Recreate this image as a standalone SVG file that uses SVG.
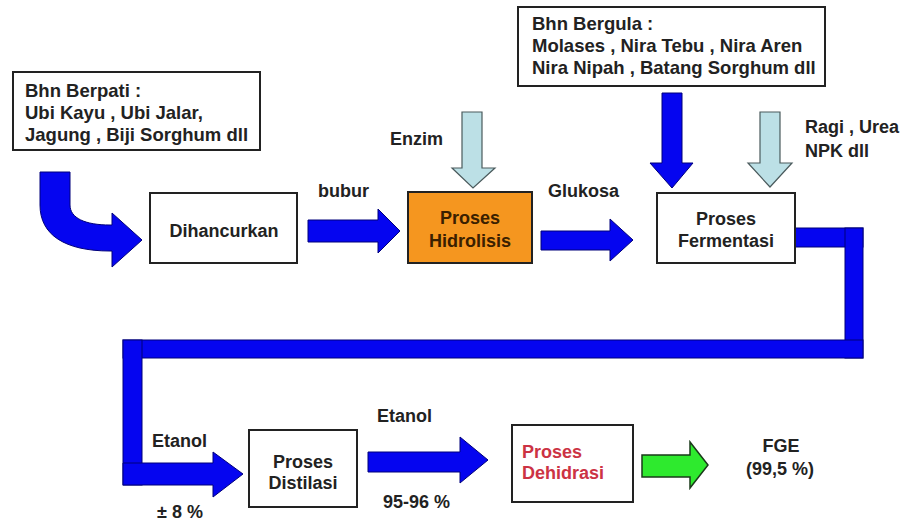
<svg xmlns="http://www.w3.org/2000/svg" width="905" height="521" viewBox="0 0 905 521">
<style>
text{font-family:"Liberation Sans",Arial,sans-serif;font-weight:bold;font-size:18px;fill:#222}
.big{font-size:18.5px}
.box{fill:#fff;stroke:#222;stroke-width:2}
.blue{fill:#0505F0;stroke:#00007a;stroke-width:1}
.light{fill:#BCE0E6;stroke:#4a5a5c;stroke-width:1.2}
.mid{text-anchor:middle}
</style>
<rect width="905" height="521" fill="#fff"/>

<g id="connectors">
  <path id="curve-arrow" class="blue" d="M40,172 L70,172 L70,205 C70,218 85,225 110,225 L112,225 L112,213 L142,240 L112,267 L112,251 L110,251 C65,251 40,235 40,205 Z"/>
  <path id="arrow-bubur" class="blue" d="M308,220 L378,220 L378,209 L400,231 L378,253 L378,242 L308,242 Z"/>
  <path id="arrow-glukosa" class="blue" d="M541,231 L610,231 L610,219 L633,240 L610,261 L610,250 L541,250 Z"/>
  <path id="arrow-bergula" class="blue" d="M662,93 L682,93 L682,163 L693,163 L672,188 L650,163 L662,163 Z"/>
  <path id="arrow-enzim" class="light" d="M462,112 L482,112 L482,168 L495,168 L473,188 L452,168 L462,168 Z"/>
  <path id="arrow-ragi" class="light" d="M760,112 L780,112 L780,163 L792,163 L770,187 L748,163 L760,163 Z"/>
  <g id="arrow-etanol-loop">
    <rect class="blue" x="795" y="228" width="68" height="19"/>
    <rect class="blue" x="845" y="228" width="18" height="130"/>
    <rect class="blue" x="123" y="340" width="740" height="18"/>
    <rect class="blue" x="123" y="340" width="19" height="145"/>
    <path class="blue" d="M123,463 L213,463 L213,452 L243,474 L213,497 L213,485 L123,485 Z"/>
  </g>
  <path id="arrow-etanol2" class="blue" d="M368,452 L460,452 L460,437 L488,460 L460,483 L460,472 L368,472 Z"/>
  <path id="arrow-green" d="M642,455 L690,455 L690,442 L708,465 L690,488 L690,477 L642,477 Z" fill="#2EEA2E" stroke="#1a3a1a" stroke-width="1.5"/>
</g>

<g id="node-berpati">
  <rect class="box" x="13" y="72" width="247" height="78"/>
  <text class="big" x="25" y="97">Bhn Berpati :</text>
  <text class="big" x="25" y="119">Ubi Kayu , Ubi Jalar,</text>
  <text class="big" x="25" y="141">Jagung , Biji Sorghum dll</text>
</g>

<g id="node-bergula">
  <rect class="box" x="518" y="7" width="307" height="79"/>
  <text class="big" x="532" y="30">Bhn Bergula :</text>
  <text class="big" x="532" y="52">Molases , Nira Tebu , Nira Aren</text>
  <text class="big" x="532" y="74">Nira Nipah , Batang Sorghum dll</text>
</g>

<g id="node-dihancurkan">
  <rect class="box" x="150" y="193" width="147" height="70"/>
  <text class="mid" x="224" y="237">Dihancurkan</text>
</g>

<g id="node-hidrolisis">
  <rect x="408" y="192" width="124" height="71" fill="#F5961F" stroke="#222" stroke-width="2"/>
  <text class="mid" x="470" y="224" style="fill:#3a2000">Proses</text>
  <text class="mid" x="470" y="247" style="fill:#3a2000">Hidrolisis</text>
</g>

<g id="node-fermentasi">
  <rect class="box" x="657" y="193" width="138" height="70"/>
  <text class="mid" x="726" y="225">Proses</text>
  <text class="mid" x="726" y="247">Fermentasi</text>
</g>

<g id="node-distilasi">
  <rect class="box" x="249" y="430" width="108" height="77"/>
  <text class="mid" x="303" y="468">Proses</text>
  <text class="mid" x="303" y="489">Distilasi</text>
</g>

<g id="node-dehidrasi">
  <rect class="box" x="512" y="425" width="121" height="77"/>
  <text x="522" y="458" style="fill:#CC3344">Proses</text>
  <text x="522" y="479" style="fill:#CC3344">Dehidrasi</text>
</g>

<g id="node-fge">
  <text class="mid" x="781" y="452">FGE</text>
  <text class="mid" x="780" y="475">(99,5 %)</text>
</g>

<g id="labels">
  <text x="318" y="197">bubur</text>
  <text x="390" y="145">Enzim</text>
  <text x="548" y="197">Glukosa</text>
  <text x="805" y="133">Ragi , Urea</text>
  <text x="805" y="157">NPK dll</text>
  <text x="152" y="447">Etanol</text>
  <text x="157" y="518">± 8 %</text>
  <text x="377" y="422">Etanol</text>
  <text x="383" y="508">95-96 %</text>
</g>
</svg>
